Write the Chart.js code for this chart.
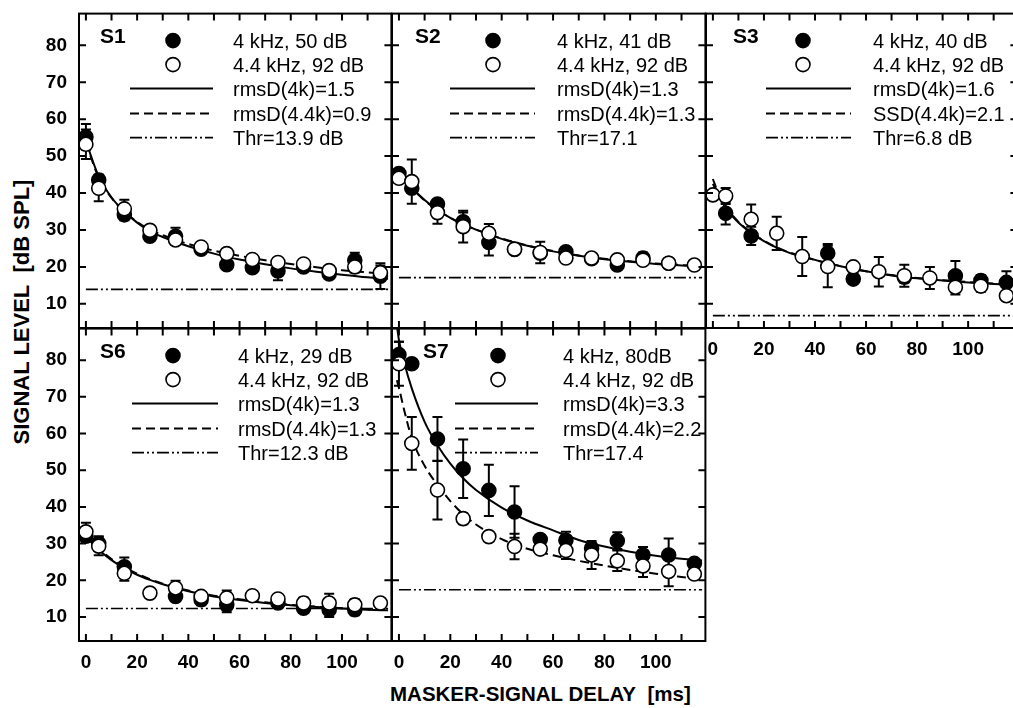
<!DOCTYPE html>
<html lang="en">
<head>
  <meta charset="UTF-8" />
  <title>Signal level vs masker-signal delay</title>
  <script src="https://cdn.jsdelivr.net/npm/chart.js@4.4.1/dist/chart.umd.min.js"></script>
  <style>
    html, body { margin: 0; padding: 0; background: #fff; width: 1013px; height: 708px; overflow: hidden; }
    body { position: relative; font-family: "Liberation Sans", Arial, sans-serif; color: #000; }
    canvas { position: absolute; }
    .axis-title { position: absolute; font-weight: bold; white-space: nowrap; }
    #ytitle { left: 22px; top: 312px; font-size: 22px; line-height: 22px; transform: translate(-50%, -50%) rotate(-90deg); }
    #xtitle { left: 390px; top: 683px; font-size: 20.5px; line-height: 21px; }
  </style>
</head>
<body>
  <div id="ytitle" class="axis-title">SIGNAL LEVEL&nbsp;&nbsp;[dB SPL]</div>
  <div id="xtitle" class="axis-title">MASKER-SIGNAL DELAY&nbsp;&nbsp;[ms]</div>

  <script>
  // ---- data ----
  const delays = [0, 5, 15, 25, 35, 45, 55, 65, 75, 85, 95, 105, 115];
  const xTickLabels = [0, 20, 40, 60, 80, 100];
  const xTickMarks  = [0, 10, 20, 30, 40, 50, 60, 70, 80, 90, 100, 110];
  const yTickLabels = [10, 20, 30, 40, 50, 60, 70, 80];
  const fitX  = [0, 2, 5, 10, 15, 20, 25, 30, 40, 50, 60, 70, 80, 90, 100, 110, 118];
  const s7FitX = [-0.8, 0, 2, 5, 10, 15, 20, 25, 30, 40, 50, 60, 70, 80, 90, 100, 110, 118];
  const thrX = [0, 118];

  // S1
  const s1Filled    = [55.2, 43.5, 34.1, 28.3, 28.3, 24.8, 20.6, 19.8, 18.9, 20.0, 18.1, 21.8, 17.5];
  const s1FilledErr = [3.5, 1.5, 1.5, 1, 2.3, 1, 1, 1, 2.5, 1, 1, 2, 3.5];
  const s1Open      = [53.2, 41.3, 35.7, 29.9, 27.3, 25.4, 23.6, 22.0, 21.2, 20.8, 19.0, 20.0, 18.4];
  const s1OpenErr   = [4, 3.5, 2.5, 1, 1, 1, 1, 1, 1, 1, 1, 1.5, 2];
  const s1Solid  = [54.3, 50, 44.5, 38.8, 35, 32, 29.7, 28.1, 25.6, 23.6, 22.0, 20.7, 19.6, 18.7, 17.9, 17.2, 16.8];
  const s1Dashed = [53.8, 49.6, 44.2, 38.7, 35, 32.2, 30.1, 28.6, 26.2, 24.4, 23.0, 21.8, 20.8, 19.9, 19.1, 18.5, 18.0];
  const s1Legend = ['4 kHz, 50 dB', '4.4 kHz, 92 dB', 'rmsD(4k)=1.5', 'rmsD(4.4k)=0.9', 'Thr=13.9 dB'];

  // S2
  const s2Filled    = [45.3, 41.3, 37.0, 32.2, 26.6, 24.7, 23.7, 24.1, 22.2, 20.5, 22.4, 21.0, null];
  const s2FilledErr = [1, 1, 1, 2.5, 3.5, 1, 1, 1, 1, 1, 1.5, 1, 0];
  const s2Open      = [44.0, 43.1, 34.7, 30.9, 29.1, 24.8, 23.9, 22.4, 22.4, 21.9, 21.8, 21.0, 20.5];
  const s2OpenErr   = [1, 6, 3, 4.3, 2.5, 1, 2.9, 1, 1, 1, 1, 1, 1];
  const s2Solid  = [46, 44.2, 41.5, 38.1, 35.4, 33.3, 31.6, 30.1, 27.6, 25.7, 24.2, 23.0, 22.1, 21.4, 20.8, 20.4, 20.1];
  const s2Dashed = [45.5, 43.9, 41.3, 38.0, 35.4, 33.3, 31.6, 30.1, 27.7, 25.8, 24.3, 23.1, 22.2, 21.5, 20.9, 20.5, 20.2];
  const s2Legend = ['4 kHz, 41 dB', '4.4 kHz, 92 dB', 'rmsD(4k)=1.3', 'rmsD(4.4k)=1.3', 'Thr=17.1'];

  // S3
  const s3Filled    = [null, 34.5, 28.4, null, null, 23.7, 16.7, null, 17.2, null, 17.6, 16.3, 15.8];
  const s3FilledErr = [0, 3, 2.5, 0, 0, 2.5, 1, 0, 1.5, 0, 4, 1.5, 3];
  const s3Open      = [39.5, 39.2, 32.9, 29.1, 22.8, 20.1, 20.0, 18.7, 17.6, 17.0, 14.5, 14.8, 12.2];
  const s3OpenErr   = [0, 2.2, 4, 4.5, 5.3, 5.6, 1, 4, 3, 3, 2, 1.5, 1];
  const s3Solid  = [42.5, 39.5, 36, 32, 29.2, 27, 25.2, 23.8, 21.9, 20.2, 18.8, 17.7, 16.9, 16.3, 15.8, 15.4, 15.1];
  const s3Dashed = [43.8, 40.2, 36.4, 32.2, 29.3, 27.1, 25.3, 23.9, 21.9, 20.2, 18.8, 17.8, 17.0, 16.4, 15.9, 15.5, 15.2];
  const s3Legend = ['4 kHz, 40 dB', '4.4 kHz, 92 dB', 'rmsD(4k)=1.6', 'SSD(4.4k)=2.1', 'Thr=6.8 dB'];

  // S6
  const s6Filled    = [32.0, 30.0, 23.7, null, 15.6, 14.7, 13.3, null, 13.8, 12.4, 12.0, 12.0, null];
  const s6FilledErr = [1.5, 2, 2.5, 0, 1, 1.5, 2, 0, 1, 1, 2, 1.5, 0];
  const s6Open      = [33.2, 29.3, 21.9, 16.5, 17.9, 15.6, 15.2, 15.8, 14.9, 13.8, 13.8, 13.3, 13.8];
  const s6OpenErr   = [2.5, 2.5, 2, 0, 2, 1, 2, 0, 1, 1.5, 2.5, 1.5, 0];
  const s6Solid  = [32, 30.5, 28.3, 25.5, 23.3, 21.5, 20.1, 18.9, 17.0, 15.6, 14.6, 13.8, 13.2, 12.7, 12.3, 12.0, 11.8];
  const s6Dashed = [32.5, 30.9, 28.7, 25.8, 23.6, 21.8, 20.3, 19.1, 17.2, 15.8, 14.8, 14.0, 13.3, 12.8, 12.4, 12.1, 11.9];
  const s6Legend = ['4 kHz, 29 dB', '4.4 kHz, 92 dB', 'rmsD(4k)=1.3', 'rmsD(4.4k)=1.3', 'Thr=12.3 dB'];

  // S7
  const s7Filled    = [81.5, 79.0, 58.5, 50.4, 44.5, 38.6, 31.1, 30.9, 28.7, 30.8, 26.9, 26.9, 24.6];
  const s7FilledErr = [3.5, 0, 6, 8, 7, 7, 1, 2.3, 1.5, 2.3, 2.2, 4.5, 1];
  const s7Open      = [79.0, 57.3, 44.6, 36.8, 31.9, 29.2, 28.5, 28.1, 26.9, 25.3, 23.9, 22.4, 21.7];
  const s7OpenErr   = [6, 7.2, 8, 1.5, 0, 3.5, 1, 2.3, 3.8, 2.8, 3, 4, 1];
  const s7Solid  = [89.5, 85.5, 79.5, 72.3, 63.2, 56.8, 51.8, 47.8, 44.6, 39.8, 36.3, 33.6, 31.0, 29.2, 27.8, 26.7, 25.9, 25.4];
  const s7Dashed = [74.5, 72.5, 66.5, 58.8, 51.2, 46.0, 41.6, 38.0, 35.2, 31.2, 28.6, 26.8, 25.3, 24.0, 22.8, 21.8, 20.9, 20.2];
  const s7Legend = ['4 kHz, 80dB', '4.4 kHz, 92 dB', 'rmsD(4k)=3.3', 'rmsD(4.4k)=2.2', 'Thr=17.4'];

  // ---- layout ----
  const M = { l: 75, r: 8, t: 8, b: 45 };
  const FONT = '"Liberation Sans", Arial, sans-serif';
  const X_RANGE = [-2.7, 119.3], Y_RANGE = [3.45, 88.6];
  const DASH = [9, 5], DASHDOT = [12, 3, 2, 3, 2, 3];
  const legRows = [27, 51, 75, 100, 124];
  const R_MARK = 7;

  const panels = [
    { name: 'S1', box: [79, 13, 392, 328], filled: s1Filled, filledErr: s1FilledErr, open: s1Open, openErr: s1OpenErr,
      fx: fitX, solid: s1Solid, dashed: s1Dashed, thr: 13.9, legend: s1Legend, showX: false, showY: true,
      leg: { label: 21, marker: 94, line: [51, 134], text: 154 } },
    { name: 'S2', box: [392, 13, 706, 328], filled: s2Filled, filledErr: s2FilledErr, open: s2Open, openErr: s2OpenErr,
      fx: fitX, solid: s2Solid, dashed: s2Dashed, thr: 17.1, legend: s2Legend, showX: false, showY: false,
      leg: { label: 23, marker: 101, line: [58, 143], text: 165 } },
    { name: 'S3', box: [706, 13, 1018, 328], filled: s3Filled, filledErr: s3FilledErr, open: s3Open, openErr: s3OpenErr,
      fx: fitX, solid: s3Solid, dashed: s3Dashed, thr: 6.8, legend: s3Legend, showX: true, showY: false,
      leg: { label: 27, marker: 97, line: [60, 145], text: 167 } },
    { name: 'S6', box: [79, 328, 392, 641], filled: s6Filled, filledErr: s6FilledErr, open: s6Open, openErr: s6OpenErr,
      fx: fitX, solid: s6Solid, dashed: s6Dashed, thr: 12.3, legend: s6Legend, showX: true, showY: true,
      leg: { label: 21, marker: 94, line: [53, 139], text: 159 } },
    { name: 'S7', box: [392, 328, 706, 641], filled: s7Filled, filledErr: s7FilledErr, open: s7Open, openErr: s7OpenErr,
      fx: s7FitX, solid: s7Solid, dashed: s7Dashed, thr: 17.4, legend: s7Legend, showX: true, showY: false,
      leg: { label: 31, marker: 106, line: [63, 146], text: 171 } }
  ];

  const pts = (xs, ys) => xs.map((x, i) => ({ x, y: ys[i] })).filter(d => d.y != null);

  function circle(ctx, x, y, filled) {
    ctx.beginPath();
    ctx.arc(x, y, R_MARK, 0, Math.PI * 2);
    ctx.fillStyle = filled ? '#000' : '#fff';
    ctx.fill();
    ctx.lineWidth = 1.6; ctx.strokeStyle = '#000';
    ctx.stroke();
  }

  // fixed axis box sizes, no label overhang padding
  function fixSize(prop, size) {
    return s => {
      s[prop] = size;
      s.paddingTop = 0; s.paddingBottom = 0; s.paddingLeft = 0; s.paddingRight = 0;
    };
  }

  function makePanel(p) {
    const [L, T, R, B] = p.box;
    const W = R - L + M.l + M.r, H = B - T + M.t + M.b;
    const cv = document.createElement('canvas');
    cv.width = W; cv.height = H;
    cv.style.left = (L - M.l) + 'px'; cv.style.top = (T - M.t) + 'px';
    cv.style.width = W + 'px'; cv.style.height = H + 'px';
    document.body.appendChild(cv);

    const decor = {
      id: 'decor' + p.name,
      beforeDatasetsDraw(chart) {
        // error bars, under the markers
        const { ctx, chartArea: a, scales: { x, y } } = chart;
        ctx.save();
        ctx.beginPath(); ctx.rect(a.left, a.top, a.right - a.left, a.bottom - a.top); ctx.clip();
        ctx.strokeStyle = '#000'; ctx.lineWidth = 2;
        [[p.filled, p.filledErr], [p.open, p.openErr]].forEach(([vals, errs]) => {
          vals.forEach((v, i) => {
            if (v == null || !errs[i]) return;
            const px = x.getPixelForValue(delays[i]);
            const y1 = y.getPixelForValue(v + errs[i]), y2 = y.getPixelForValue(v - errs[i]);
            ctx.beginPath();
            ctx.moveTo(px, y1); ctx.lineTo(px, y2);
            ctx.moveTo(px - 5, y1); ctx.lineTo(px + 5, y1);
            ctx.moveTo(px - 5, y2); ctx.lineTo(px + 5, y2);
            ctx.stroke();
          });
        });
        ctx.restore();
      },
      afterDatasetsDraw(chart) {
        // frame with inward ticks on all four sides
        const { ctx, chartArea: a, scales: { x, y } } = chart;
        ctx.save();
        ctx.strokeStyle = '#000'; ctx.lineWidth = 2;
        ctx.strokeRect(a.left, a.top, a.right - a.left, a.bottom - a.top);
        ctx.beginPath();
        xTickMarks.forEach(v => {
          const px = x.getPixelForValue(v);
          ctx.moveTo(px, a.bottom); ctx.lineTo(px, a.bottom - 7);
          ctx.moveTo(px, a.top); ctx.lineTo(px, a.top + 7);
        });
        yTickLabels.forEach(v => {
          const py = y.getPixelForValue(v);
          ctx.moveTo(a.left, py); ctx.lineTo(a.left + 7, py);
          ctx.moveTo(a.right, py); ctx.lineTo(a.right - 7, py);
        });
        ctx.stroke();

        // in-panel legend
        const lx = a.left, ty = a.top, g = p.leg;
        ctx.fillStyle = '#000';
        ctx.textBaseline = 'alphabetic'; ctx.textAlign = 'left';
        ctx.font = 'bold 21px ' + FONT;
        ctx.fillText(p.name, lx + g.label, ty + 22 + 7.5);
        circle(ctx, lx + g.marker, ty + legRows[0], true);
        circle(ctx, lx + g.marker, ty + legRows[1], false);
        const dashes = [[], DASH, DASHDOT];
        dashes.forEach((d, k) => {
          const ly = ty + legRows[k + 2];
          ctx.beginPath(); ctx.setLineDash(d);
          ctx.lineWidth = k === 2 ? 1.6 : 2;
          ctx.moveTo(lx + g.line[0], ly); ctx.lineTo(lx + g.line[1], ly);
          ctx.stroke();
        });
        ctx.setLineDash([]);
        ctx.fillStyle = '#000';
        ctx.font = '20px ' + FONT;
        p.legend.forEach((t, k) => ctx.fillText(t, lx + g.text, ty + legRows[k] + 7.2));
        ctx.restore();
      }
    };

    const tickFont = { family: FONT, size: 19, weight: 'bold' };
    new Chart(cv, {
      type: 'scatter',
      data: {
        datasets: [
          { data: pts(delays, p.open), pointRadius: R_MARK, pointBackgroundColor: '#fff',
            pointBorderColor: '#000', pointBorderWidth: 1.6, showLine: false, order: 0 },
          { data: pts(delays, p.filled), pointRadius: R_MARK, pointBackgroundColor: '#000',
            pointBorderColor: '#000', pointBorderWidth: 1.6, showLine: false, order: 1 },
          { type: 'line', data: pts(p.fx, p.solid), borderColor: '#000', borderWidth: 2,
            pointRadius: 0, cubicInterpolationMode: 'monotone', fill: false, order: 2 },
          { type: 'line', data: pts(p.fx, p.dashed), borderColor: '#000', borderWidth: 2, borderDash: DASH,
            pointRadius: 0, cubicInterpolationMode: 'monotone', fill: false, order: 3 },
          { type: 'line', data: pts(thrX, [p.thr, p.thr]), borderColor: '#000', borderWidth: 1.6,
            borderDash: DASHDOT, pointRadius: 0, fill: false, order: 4 }
        ]
      },
      options: {
        responsive: false,
        animation: false,
        devicePixelRatio: 1,
        layout: { padding: { top: M.t, right: M.r, left: 0, bottom: 0 } },
        plugins: { legend: { display: false }, tooltip: { enabled: false } },
        scales: {
          x: {
            type: 'linear', position: 'bottom', min: X_RANGE[0], max: X_RANGE[1],
            grid: { display: false, drawTicks: false }, border: { display: false },
            ticks: { display: p.showX, font: tickFont, color: '#000', padding: 10, autoSkip: false, maxRotation: 0 },
            afterBuildTicks: s => { s.ticks = xTickLabels.map(v => ({ value: v })); },
            afterFit: fixSize('height', M.b)
          },
          y: {
            type: 'linear', position: 'left', min: Y_RANGE[0], max: Y_RANGE[1],
            grid: { display: false, drawTicks: false }, border: { display: false },
            ticks: { display: p.showY, font: tickFont, color: '#000', padding: 12, autoSkip: false },
            afterBuildTicks: s => { s.ticks = yTickLabels.map(v => ({ value: v })); },
            afterFit: fixSize('width', M.l)
          }
        }
      },
      plugins: [decor]
    });
  }

  panels.forEach(makePanel);
  </script>
</body>
</html>
